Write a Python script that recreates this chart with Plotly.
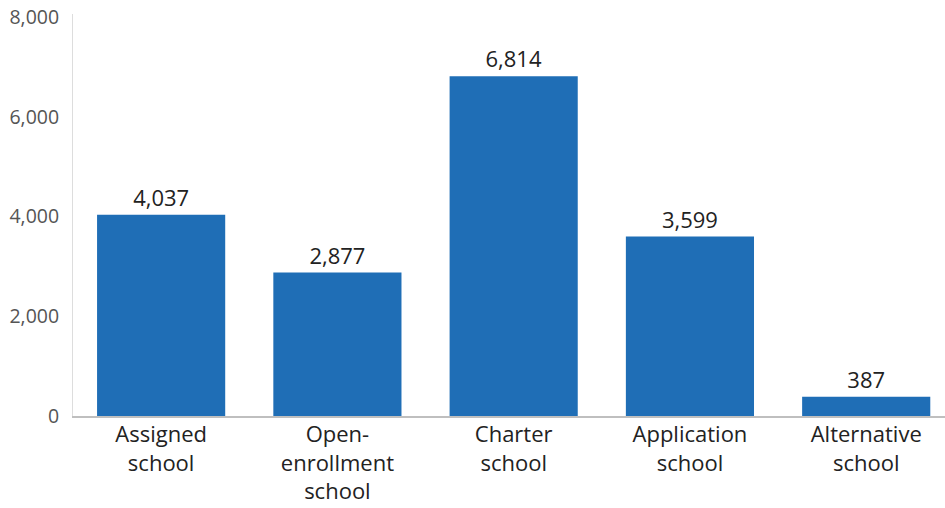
import plotly.graph_objects as go

categories = ["Assigned<br>school", "Open-<br>enrollment<br>school", "Charter<br>school",
              "Application<br>school", "Alternative<br>school"]
values = [4037, 2877, 6814, 3599, 387]
value_labels = ["4,037", "2,877", "6,814", "3,599", "387"]
y_ticks = [0, 2000, 4000, 6000, 8000]
y_tick_labels = ["0", "2,000", "4,000", "6,000", "8,000"]

font_family = "Open Sans, Lato, sans-serif"

fig = go.Figure(go.Bar(
    x=list(range(len(categories))),
    y=values,
    text=value_labels,
    textposition="outside",
    textfont=dict(size=22, color="#222222", family=font_family),
    cliponaxis=False,
    marker=dict(color="#1f6eb6", line=dict(width=0)),
    width=0.727,
))

fig.update_layout(
    width=945, height=508,
    margin=dict(l=73, r=0, t=14, b=92),
    plot_bgcolor="white", paper_bgcolor="white",
    showlegend=False,
    font=dict(family=font_family),
    xaxis=dict(
        tickmode="array",
        tickvals=list(range(len(categories))),
        ticktext=categories,
        range=[-0.5, 4.447],
        automargin=False,
        showgrid=False, zeroline=False,
        showline=True, linecolor="#bfbfbf", linewidth=1.5,
        ticks="", ticklabelstandoff=-2,
        tickfont=dict(size=22, color="#222222"),
    ),
    yaxis=dict(
        range=[0, 8060],
        automargin=False,
        tickmode="array", tickvals=y_ticks, ticktext=y_tick_labels,
        showgrid=False, zeroline=False,
        showline=True, linecolor="#dddddd", linewidth=1,
        ticks="", ticklabelstandoff=9,
        tickfont=dict(size=19.5, color="#555555"),
    ),
)

fig.write_html("out.html", config={"displayModeBar": False},
               post_script="document.body.style.margin='0';")
